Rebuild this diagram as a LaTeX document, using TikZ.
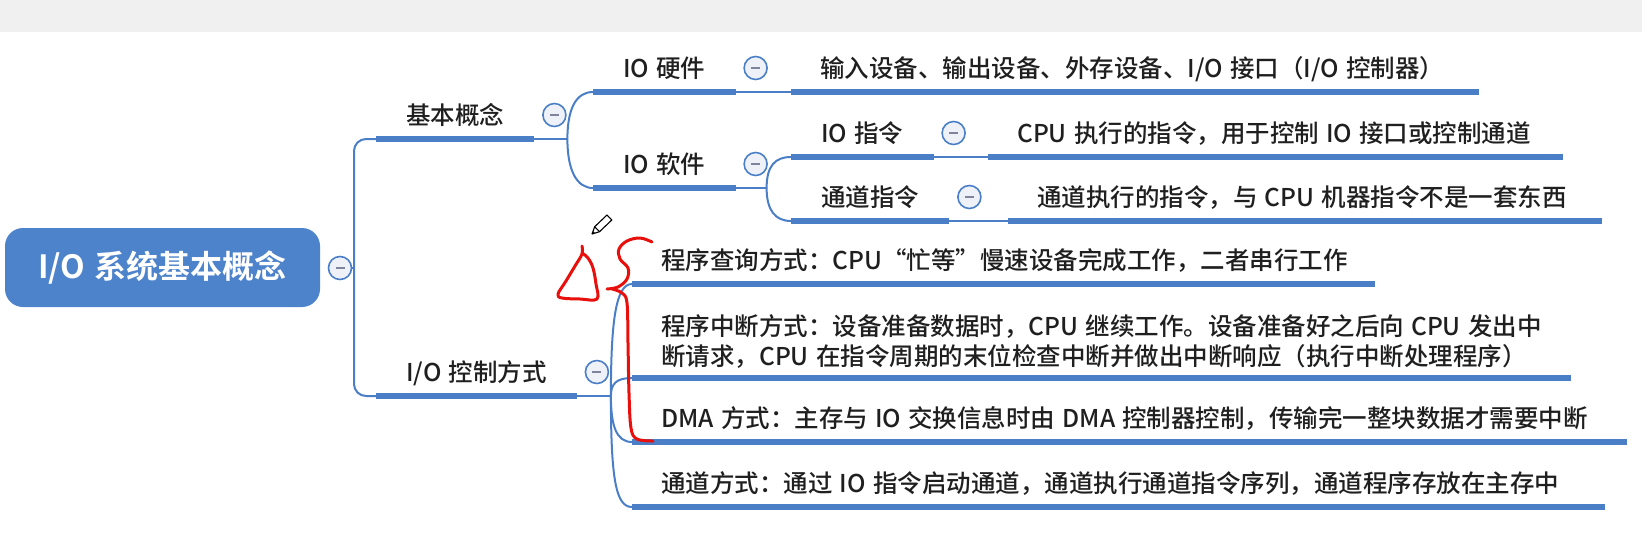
\documentclass[tikz,border=0pt]{standalone}
\usepackage{fontspec}
\setmainfont{Noto Sans CJK SC}[UprightFont=* Medium, BoldFont=* Bold, WordSpace=1.3]
\usetikzlibrary{positioning, calc}
\usepackage{xcolor}

\definecolor{mapblue}{HTML}{4A7FC8}
\definecolor{rootblue}{HTML}{4D83CB}
\definecolor{btnfill}{HTML}{EEF1F7}
\definecolor{btnbar}{HTML}{7F849C}
\definecolor{inkred}{HTML}{E8100C}
\definecolor{topbar}{HTML}{F0F0F0}

\begin{document}
\begin{tikzpicture}[
        x=1pt, y=-1pt,
        root/.style={
            fill=rootblue,
            rounded corners=18pt,
            minimum width=315pt,
            minimum height=79pt,
            text=white,
            font=\fontsize{32}{36}\selectfont\bfseries
        },
        topic/.style={
            anchor=south west,
            inner xsep=30pt, inner ysep=0pt,
            text height=20pt, text depth=14pt,
            text=black!88,
            font=\fontsize{24.5}{30}\selectfont
        },
        leaf/.style={topic, inner xsep=29pt},
        uline/.style={draw=mapblue, line width=6pt},
        link/.style={draw=mapblue, line width=2pt},
        btn/.style={
            circle, draw=mapblue, line width=1.6pt, fill=btnfill,
            minimum size=23pt, inner sep=0pt,
            path picture={\draw[btnbar, line width=2pt]
                ([xshift=-4.5pt]path picture bounding box.center) --
                ([xshift=4.5pt]path picture bounding box.center);}
        },
        branch/.style={to path={.. controls ($(\tikztostart)+(0,#1)$)
            and ($(\tikztotarget)+(-16,0)$) .. (\tikztotarget)}},
        ink/.style={draw=inkred, line width=3pt, line cap=round, line join=round}
    ]
        \useasboundingbox (0,0) rectangle (1642,549);
        \fill[topbar] (0,0) rectangle (1642,32);

        % Root
        \node[root] (root) at (162.5,267.5) {I/O 系统基本概念};
        \node[btn] (rootbtn) at (340,268) {};
        \coordinate (trunk) at (354,268);

        % Main topics
        \node[topic] (basic) at (376,139) {基本概念};
        \node[topic] (ctrl) at (376,396) {I/O 控制方式};

        % Basic concept subtopics
        \node[topic] (hw) at (593,92) {IO 硬件};
        \node[topic] (sw) at (593,188) {IO 软件};
        \node[topic] (ioins) at (791,157) {IO 指令};
        \node[topic] (chins) at (791,221) {通道指令};

        \node[leaf] (hwleaf) at (791,92) {\makebox[630pt][l]{输入设备、输出设备、外存设备、I/O 接口（I/O 控制器）}};
        \node[leaf] (ioinsleaf) at (988,157) {\makebox[517pt][l]{CPU 执行的指令，用于控制 IO 接口或控制通道}};
        \node[leaf] (chinsleaf) at (1008,221) {\makebox[536pt][l]{通道执行的指令，与 CPU 机器指令不是一套东西}};

        % Control modes
        \node[leaf] (poll) at (632,284) {\makebox[685pt][l]{程序查询方式：CPU“忙等”慢速设备完成工作，二者串行工作}};
        \node[leaf, text height=50pt, text depth=12pt] (intr) at (632,378) {\vbox{\hsize=897pt
            \hbox{程序中断方式：设备准备数据时，CPU 继续工作。设备准备好之后向 CPU 发出中}%
            \hbox{断请求，CPU 在指令周期的末位检查中断并做出中断响应（执行中断处理程序）}}};
        \node[leaf] (dma) at (632,442) {\makebox[937pt][l]{DMA 方式：主存与 IO 交换信息时由 DMA 控制器控制，传输完一整块数据才需要中断}};
        \node[leaf] (chan) at (632,507) {\makebox[915pt][l]{通道方式：通过 IO 指令启动通道，通道执行通道指令序列，通道程序存放在主存中}};

        % Underlines
        \foreach \n in {basic, ctrl, hw, sw, ioins, chins, hwleaf, ioinsleaf, chinsleaf, poll, intr, dma, chan}
            \draw[uline] (\n.south west) -- (\n.south east);

        % Collapse buttons
        \foreach \n in {basic, ctrl, hw, sw, ioins, chins}
            \node[btn] (\n btn) at ($(\n.south east)+(20,-24)$) {};

        % Trunk
        \draw[link] (rootbtn) -- (trunk);
        \draw[link, rounded corners=12pt] (basic.south west) -| (trunk) |- (ctrl.south west);

        % Basic concept branches
        \coordinate (bj) at ($(basic.south east)+(33,0)$);
        \draw[link] (basic.south east) -- (bj);
        \draw[link] (bj) to[branch=-32] (hw.south west);
        \draw[link] (bj) to[branch=32] (sw.south west);
        \draw[link] (hw.south east) -- (hwleaf.south west);

        \coordinate (sj) at ($(sw.south east)+(31,0)$);
        \draw[link] (sw.south east) -- (sj);
        \draw[link] (sj) to[branch=-22] (ioins.south west);
        \draw[link] (sj) to[branch=22] (chins.south west);
        \draw[link] (ioins.south east) -- (ioinsleaf.south west);
        \draw[link] (chins.south east) -- (chinsleaf.south west);

        % Control mode branches
        \coordinate (cj) at ($(ctrl.south east)+(34,0)$);
        \draw[link] (ctrl.south east) -- (cj);
        \draw[link] (cj) to[branch=-76] (poll.south west);
        \draw[link] (cj) to[branch=-12] (intr.south west);
        \draw[link] (cj) to[branch=29] (dma.south west);
        \draw[link] (cj) to[branch=84] (chan.south west);

        % Red pen marks
        \draw[ink] plot[smooth, tension=0.6] coordinates {(582,246) (582,254) (575,266) (566,281) (558,294) (562,298) (580,299) (597,299) (596,284) (593,268) (588,258) (582,253)};
        \draw[ink] plot[smooth, tension=0.6] coordinates {(652,242) (640,238) (627,241) (619,249) (620,259) (628,268) (627,279) (618,287) (607,289)};
        \draw[ink] plot[smooth, tension=0.6] coordinates {(612,289) (622,293) (627,303) (628,343) (629,393) (631,428) (637,439) (653,441)};

        % Pencil cursor
        \draw[black, line width=1.1pt, line join=round, fill=white] (592,234) -- (599.5,231.7) -- (611.8,220.0) -- (607.0,215.0) -- (594.7,226.7) -- cycle;
        \draw[black, line width=1.1pt] (599.5,231.7) -- (594.7,226.7);
        \fill[black] (592,234) -- (595,233.1) -- (593.1,231.1) -- cycle;
    \end{tikzpicture}
\end{document}
